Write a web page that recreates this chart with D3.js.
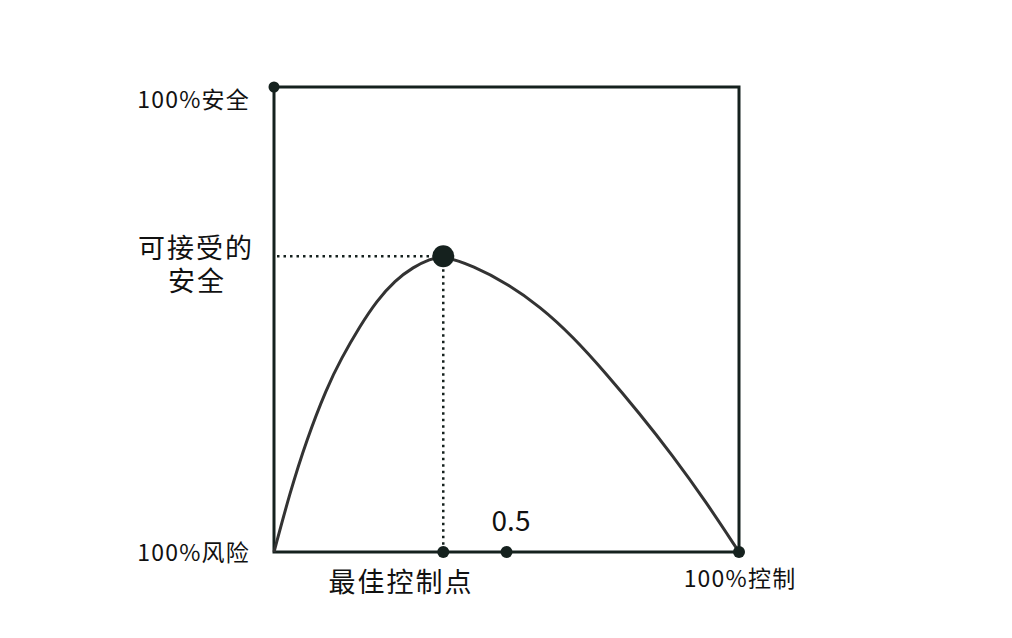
<!DOCTYPE html>
<html>
<head>
    <meta charset='utf-8' />
    <title>最佳控制点</title>
    <script src="https://cdn.jsdelivr.net/npm/d3@7"></script>
	<style type="text/css">
		body { margin: 0; background: #fff; }
		#chart { width: 1012px; height: 638px; }
		text {
			font-family: "Noto Sans CJK SC", "Noto Sans", sans-serif;
			fill: #111;
		}
		.small { font-size: 23px; letter-spacing: 1.2px; }
		.big { font-size: 27px; letter-spacing: 2px; }
		.frame { fill: none; stroke: #15211e; stroke-width: 3px; }
		.curve { fill: none; stroke: #333; stroke-width: 3px; }
		.guide { stroke: #15211e; stroke-width: 2.5px; stroke-dasharray: 2.5 4; }
		.dot { fill: #15211e; }
	</style>
</head>
<body>
<div id="chart"></div>

<script type="text/javascript">
	// control (0..1) vs safety (0..1)
	var curveX = [0, 0.034, 0.070, 0.113, 0.144, 0.185, 0.221, 0.260, 0.300, 0.335, 0.364,
		0.429, 0.500, 0.572, 0.643, 0.714, 0.786, 0.857, 0.929, 1];
	var curveY = [0, 0.127, 0.241, 0.352, 0.415, 0.486, 0.540, 0.584, 0.613, 0.630, 0.637,
		0.615, 0.578, 0.528, 0.463, 0.384, 0.298, 0.208, 0.108, 0];
	var peak = {x: 0.364, y: 0.636};
	var axisDots = [0.364, 0.5, 1];
	var cornerDot = {x: 0, y: 1};

	var width = 1012, height = 638;
	var margin = {top: 87, right: 273, bottom: 86, left: 274};
	var chartWidth = width - margin.left - margin.right,
		chartHeight = height - margin.top - margin.bottom;

	var svg = d3.select("#chart").append("svg")
		.attr("width", width)
		.attr("height", height);

	var x = d3.scaleLinear().domain([0, 1]).range([margin.left, margin.left + chartWidth]);
	var y = d3.scaleLinear().domain([0, 1]).range([margin.top + chartHeight, margin.top]);

	// frame: left, bottom, right and top edges
	svg.append("path")
		.attr("class", "frame")
		.attr("d", "M" + x(0) + "," + y(1) + "V" + y(0) + "H" + x(1) + "V" + y(1) + "H" + x(0));

	// guide lines to the peak
	svg.append("line").attr("class", "guide")
		.attr("x1", x(0) + 3).attr("x2", x(peak.x))
		.attr("y1", y(peak.y)).attr("y2", y(peak.y));
	svg.append("line").attr("class", "guide")
		.attr("x1", x(peak.x)).attr("x2", x(peak.x))
		.attr("y1", y(peak.y)).attr("y2", y(0));

	var pts = curveX.map(function(d, i) { return [d, curveY[i]]; });
	// basis smooths out the reading noise of the hand-read points
	var line = d3.line()
		.x(function(d) { return x(d[0]); })
		.y(function(d) { return y(d[1]); })
		.curve(d3.curveBasis);

	svg.append("path")
		.datum(pts)
		.attr("class", "curve")
		.attr("d", line);

	svg.selectAll(".dot.axis")
		.data(axisDots)
	  .enter().append("circle")
		.attr("class", "dot axis")
		.attr("cx", function(d) { return x(d); })
		.attr("cy", y(0))
		.attr("r", 6);

	svg.append("circle").attr("class", "dot")
		.attr("cx", x(cornerDot.x)).attr("cy", y(cornerDot.y)).attr("r", 5.5);

	svg.append("circle").attr("class", "dot")
		.attr("cx", x(peak.x)).attr("cy", y(peak.y)).attr("r", 11);

	// labels
	svg.append("text").text("100%安全").attr("class", "small")
		.attr("x", x(0) - 24).attr("y", y(1) + 21)
		.attr("text-anchor", "end");
	svg.append("text").text("100%风险").attr("class", "small")
		.attr("x", x(0) - 24).attr("y", y(0) + 9)
		.attr("text-anchor", "end");
	svg.append("text").text("100%控制").attr("class", "small")
		.attr("x", x(1) + 1).attr("y", y(0) + 35)
		.attr("text-anchor", "middle");

	// two-line label as one text block
	var accept = svg.append("text").attr("class", "big")
		.attr("text-anchor", "middle");
	accept.append("tspan").text("可接受的")
		.attr("x", 196).attr("y", y(peak.y) + 2);
	accept.append("tspan").text("安全")
		.attr("x", 197).attr("y", y(peak.y) + 35);

	svg.append("text").text("最佳控制点").attr("class", "big")
		.attr("x", 401).attr("y", y(0) + 40)
		.attr("text-anchor", "middle");

	svg.append("text").text("0.5")
		.attr("x", 511).attr("y", y(0) - 21)
		.attr("text-anchor", "middle").style("font-size", "28px");
</script>
</body>
</html>
